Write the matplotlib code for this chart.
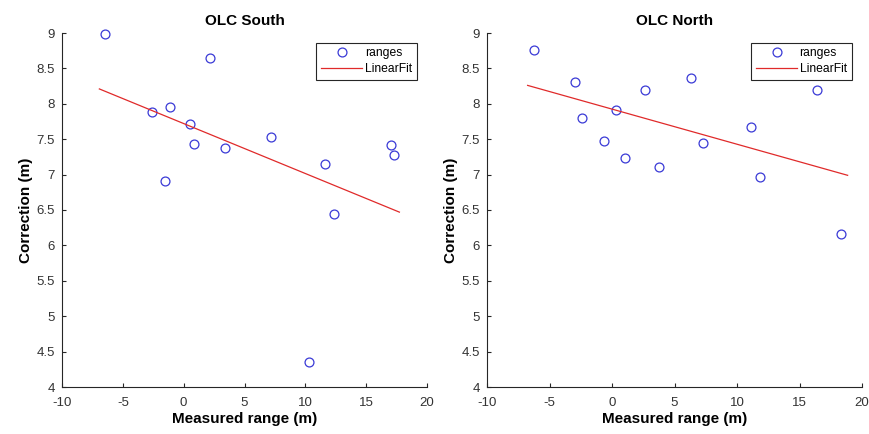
import numpy as np
import matplotlib
matplotlib.use("Agg")
import matplotlib.pyplot as plt
from matplotlib.ticker import FormatStrFormatter, MultipleLocator

plt.rcParams["font.family"] = ["Liberation Sans", "DejaVu Sans"]
plt.rcParams["axes.unicode_minus"] = False

# OLC South: measured range vs correction
south_range = [-6.44, 2.14, -2.58, -1.15, 0.55, 0.85, -1.53, 3.42, 7.18, 11.59, 12.33, 17.04, 17.26, 10.33]
south_corr = [8.98, 8.64, 7.88, 7.95, 7.71, 7.43, 6.91, 7.37, 7.53, 7.145, 6.45, 7.42, 7.28, 4.36]
south_fit_x = [-6.93, 17.73]
south_fit_y = [8.21, 6.47]

# OLC North
north_range = [-6.27, -2.99, -2.40, -0.67, 0.35, 1.07, 2.64, 3.73, 6.32, 7.28, 11.15, 11.81, 16.37, 18.32]
north_corr = [8.765, 8.31, 7.795, 7.475, 7.917, 7.234, 8.20, 7.11, 8.37, 7.45, 7.668, 6.96, 8.195, 6.16]
north_fit_x = [-6.75, 18.85]
north_fit_y = [8.26, 6.99]

AXCOL = "#262626"

fig = plt.figure(figsize=(8.69, 4.34), dpi=100)
ax1 = fig.add_axes([62 / 869, 47 / 434, 365 / 869, 354 / 434])
ax2 = fig.add_axes([487 / 869, 47 / 434, 375 / 869, 354 / 434])


def draw(ax, xs, ys, fx, fy, title):
    ax.plot(xs, ys, "o", linestyle="none", markersize=6.4, markerfacecolor="none",
            markeredgecolor="#3a3ad6", markeredgewidth=0.9, label="ranges", clip_on=False)
    ax.plot(fx, fy, "-", color="#e02a2a", linewidth=0.9, label="LinearFit")
    ax.set_xlim(-10, 20)
    ax.set_ylim(4, 9)
    ax.xaxis.set_major_locator(MultipleLocator(5))
    ax.yaxis.set_major_locator(MultipleLocator(0.5))
    ax.yaxis.set_major_formatter(FormatStrFormatter("%g"))
    for s in ["top", "right"]:
        ax.spines[s].set_visible(False)
    for s in ["left", "bottom"]:
        ax.spines[s].set_color(AXCOL)
        ax.spines[s].set_linewidth(0.8)
    ax.tick_params(direction="in", length=3, width=0.8, color=AXCOL,
                   labelcolor="#333333", labelsize=9.5)
    ax.tick_params(axis="x", pad=7)
    ax.tick_params(axis="y", pad=5)
    ax.set_title(title, fontsize=11, fontweight="bold", pad=6)
    ax.set_xlabel("Measured range (m)", fontsize=11, fontweight="bold", labelpad=2)
    ax.set_ylabel("Correction (m)", fontsize=11, fontweight="bold", labelpad=3)
    leg = ax.legend(loc="upper right", bbox_to_anchor=(0.972, 0.973), borderaxespad=0,
                    fontsize=8.7, handlelength=3.4, handletextpad=0.2, borderpad=0.4,
                    labelspacing=0.3, fancybox=False, framealpha=1)
    leg.get_frame().set_edgecolor(AXCOL)
    leg.get_frame().set_linewidth(0.8)


draw(ax1, south_range, south_corr, south_fit_x, south_fit_y, "OLC South")
draw(ax2, north_range, north_corr, north_fit_x, north_fit_y, "OLC North")

fig.savefig("out.png", dpi=100)
